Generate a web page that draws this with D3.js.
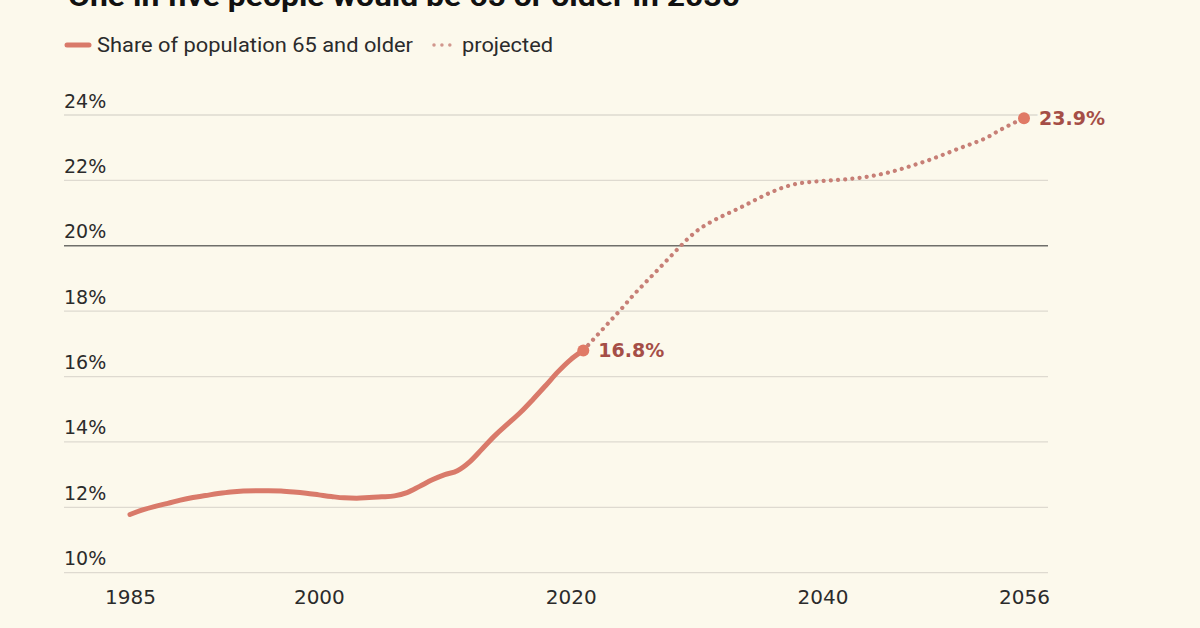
<!DOCTYPE html>
<html>
<head>
<meta charset="utf-8">
<script src="https://cdn.jsdelivr.net/npm/d3@7"></script>
<style>
  html, body { margin: 0; padding: 0; background: #fcf9ec; }
  svg { display: block; }
</style>
</head>
<body>
<svg id="chart" width="1200" height="628"></svg>
<script>
const titleText = "One in five people would be 65 or older in 2030";
const legendActual = "Share of population 65 and older";
const legendProjected = "projected";

const actualYears = [1985,1986,1987,1988,1989,1990,1991,1992,1993,1994,1995,1996,1997,1998,1999,2000,2001,2002,2003,2004,2005,2006,2007,2008,2009,2010,2011,2012,2013,2014,2015,2016,2017,2018,2019,2020,2021];
const actualValues = [11.78,11.92,12.03,12.12,12.22,12.3,12.36,12.42,12.47,12.5,12.51,12.51,12.5,12.47,12.43,12.38,12.33,12.29,12.28,12.3,12.32,12.35,12.45,12.64,12.84,13.0,13.12,13.4,13.8,14.2,14.55,14.9,15.3,15.72,16.15,16.52,16.8];

const projYears = [2021,2022,2023,2024,2025,2026,2027,2028,2029,2030,2031,2032,2033,2034,2035,2036,2037,2038,2039,2040,2041,2042,2043,2044,2045,2046,2047,2048,2049,2050,2051,2052,2053,2054,2055,2056];
const projValues = [16.8,17.22,17.64,18.06,18.5,18.9,19.3,19.7,20.1,20.45,20.7,20.9,21.08,21.27,21.47,21.65,21.8,21.9,21.95,21.98,22.01,22.04,22.08,22.14,22.22,22.32,22.44,22.56,22.7,22.85,23.0,23.14,23.3,23.52,23.72,23.9];

const yTicks = [10,12,14,16,18,20,22,24];
const xTicks = [1985,2000,2020,2040,2056];
const labels = [
  {year: 2021, value: 16.8, text: "16.8%"},
  {year: 2056, value: 23.9, text: "23.9%"}
];

const bg = "#fcf9ec";
const lineColor = "#d97a6a";
const projColor = "#c77f76";
const dotColor = "#e07a66";
const labelColor = "#a54e47";
const textColor = "#2b2b2b";
const font = "Roboto, 'Open Sans', sans-serif";
const wideFont = "'DejaVu Sans', sans-serif";

const svg = d3.select("#chart");
const x = d3.scaleLinear().domain([1985, 2056]).range([130, 1024]);
const y = d3.scaleLinear().domain([10, 24]).range([572.7, 115]);
const gridLeft = 64, gridRight = 1048;

// title (cut off at the top, as in the source image)
svg.append("text")
  .attr("x", 68).attr("y", 6)
  .attr("font-family", font).attr("font-weight", 700)
  .attr("font-size", 28).attr("fill", "#111")
  .attr("textLength", 672).attr("lengthAdjust", "spacingAndGlyphs")
  .text(titleText);

// legend
const lg = svg.append("g");
lg.append("line").attr("x1", 67).attr("x2", 89).attr("y1", 45).attr("y2", 45)
  .attr("stroke", lineColor).attr("stroke-width", 5).attr("stroke-linecap", "round");
lg.append("text").attr("x", 97).attr("y", 52)
  .attr("font-family", font).attr("font-size", 20).attr("fill", textColor)
  .attr("textLength", 316).attr("lengthAdjust", "spacingAndGlyphs")
  .text(legendActual);
lg.append("line").attr("x1", 434).attr("x2", 450).attr("y1", 45).attr("y2", 45)
  .attr("stroke", projColor).attr("stroke-width", 3.5).attr("stroke-linecap", "round")
  .attr("stroke-dasharray", "0.01 7.9").attr("opacity", 0.8);
lg.append("text").attr("x", 462).attr("y", 52)
  .attr("font-family", font).attr("font-size", 20).attr("fill", textColor)
  .attr("textLength", 91).attr("lengthAdjust", "spacingAndGlyphs")
  .text(legendProjected);

// gridlines and y labels
const yAxis = d3.axisLeft(y).tickValues(yTicks).tickSize(0).tickFormat(d => d + "%");
const gy = svg.append("g");
gy.selectAll("line.grid").data(yTicks).join("line")
  .attr("class", "grid")
  .attr("x1", gridLeft).attr("x2", gridRight)
  .attr("y1", d => y(d)).attr("y2", d => y(d))
  .attr("stroke", d => d === 20 ? "#6f6f6a" : "#dedad0")
  .attr("stroke-width", d => d === 20 ? 1.6 : 1.3);
const yAx = svg.append("g").attr("transform", `translate(${gridLeft},0)`).call(yAxis);
yAx.select(".domain").remove();
yAx.selectAll("text")
  .attr("x", 0).attr("dy", -8).attr("text-anchor", "start")
  .attr("font-family", wideFont).attr("font-size", 19).attr("fill", textColor)
  .attr("dominant-baseline", "auto");

// x axis labels
const xAxis = d3.axisBottom(x).tickValues(xTicks).tickSize(0).tickFormat(d3.format("d"));
const xAx = svg.append("g").attr("transform", "translate(0,590)").call(xAxis);
xAx.select(".domain").remove();
xAx.selectAll("text")
  .attr("y", 14).attr("dy", 0)
  .attr("font-family", wideFont).attr("font-size", 20).attr("fill", textColor);

// lines
const actual = actualYears.map((yr, i) => ({year: yr, value: actualValues[i]}));
const proj = projYears.map((yr, i) => ({year: yr, value: projValues[i]}));
const line = d3.line().x(d => x(d.year)).y(d => y(d.value)).curve(d3.curveMonotoneX);

svg.append("path").datum(proj).attr("d", line)
  .attr("fill", "none").attr("stroke", projColor).attr("stroke-width", 4.2)
  .attr("stroke-linecap", "round").attr("stroke-dasharray", "0.01 7.2");

svg.append("path").datum(actual).attr("d", line)
  .attr("fill", "none").attr("stroke", lineColor).attr("stroke-width", 5)
  .attr("stroke-linecap", "round").attr("stroke-linejoin", "round");

// end dots and labels
svg.selectAll("circle.end").data(labels).join("circle")
  .attr("class", "end")
  .attr("cx", d => x(d.year)).attr("cy", d => y(d.value)).attr("r", 6)
  .attr("fill", dotColor);

svg.selectAll("text.val").data(labels).join("text")
  .attr("class", "val")
  .attr("x", d => x(d.year) + 15).attr("y", d => y(d.value) + 7)
  .attr("font-family", wideFont).attr("font-weight", 700).attr("font-size", 19)
  .attr("fill", labelColor)
  .attr("stroke", bg).attr("stroke-width", 6).attr("paint-order", "stroke")
  .text(d => d.text);
</script>
</body>
</html>
